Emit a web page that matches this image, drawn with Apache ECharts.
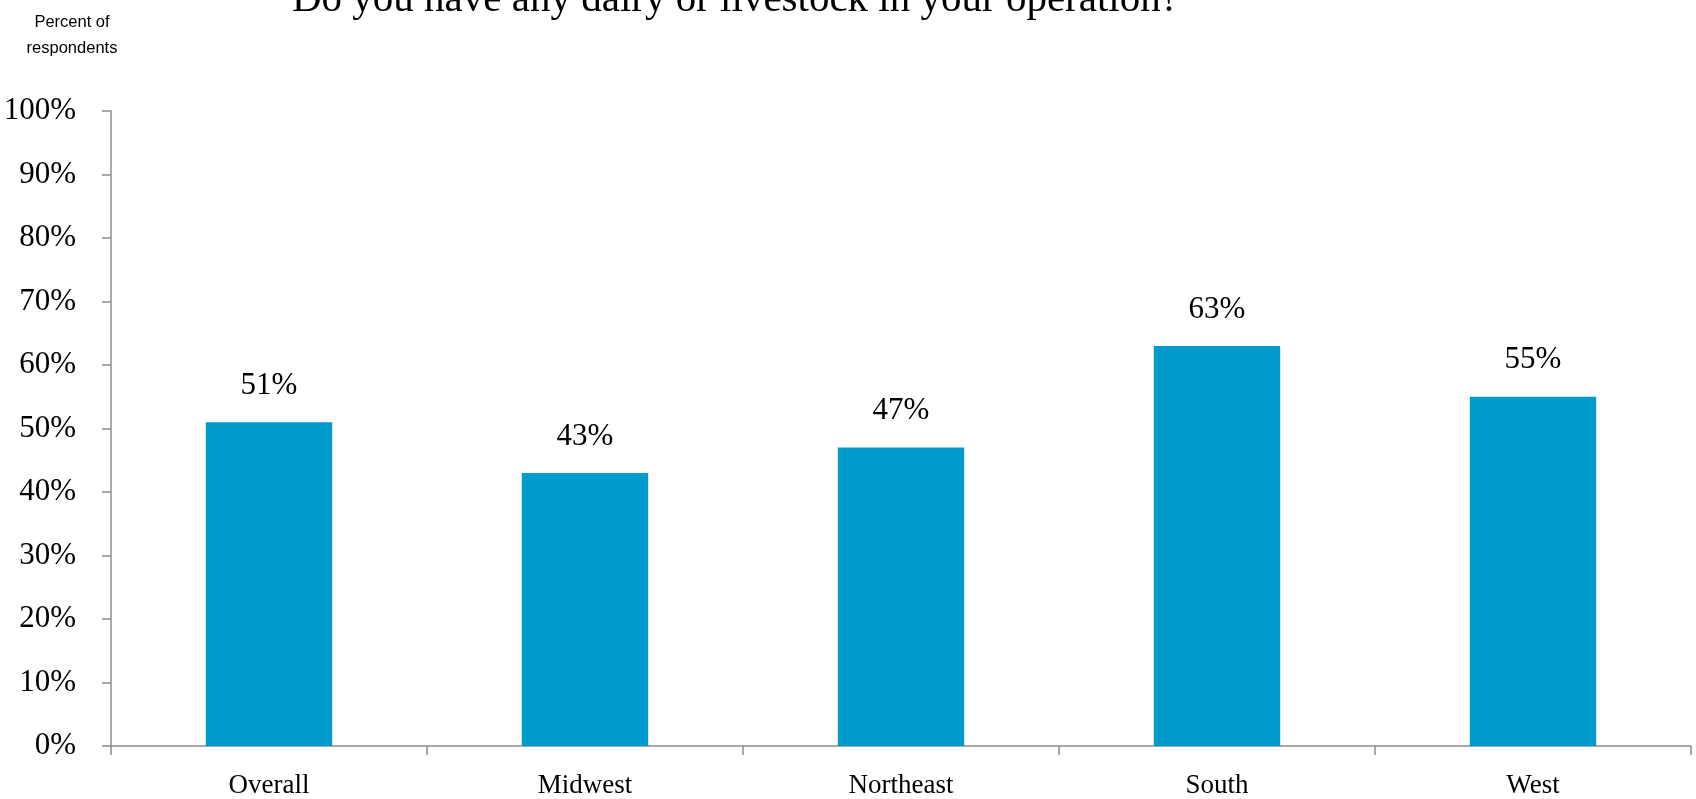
<!DOCTYPE html>
<html>
<head>
<meta charset="utf-8">
<style>
  html, body { margin: 0; padding: 0; background: #ffffff; }
  #chart { width: 1696px; height: 799px; }
</style>
<script src="https://cdn.jsdelivr.net/npm/echarts@6/dist/echarts.min.js"></script>
</head>
<body>
<div id="chart"></div>
<script>
// Share of respondents with dairy or livestock, by region
const categories = ['Overall', 'Midwest', 'Northeast', 'South', 'West'];
const values = [51, 43, 47, 63, 55];
const yTicks = [0, 10, 20, 30, 40, 50, 60, 70, 80, 90, 100];

const serif = '"Liberation Serif", "DejaVu Serif", serif';
const axisGray = '#8c8c8c';

const chart = echarts.init(document.getElementById('chart'), null, { renderer: 'canvas' });

chart.setOption({
  backgroundColor: '#ffffff',
  animation: false,
  title: {
    text: 'Do you have any dairy or livestock in your operation?',
    left: 287,
    top: -25,
    textStyle: { fontFamily: serif, fontSize: 41, fontWeight: 'normal', color: '#000000' }
  },
  graphic: [{
    type: 'text',
    style: {
      text: 'Percent of\nrespondents',
      x: 72,
      y: 9,
      align: 'center',
      verticalAlign: 'top',
      font: '16.5px "Liberation Sans", Arial, sans-serif',
      lineHeight: 26,
      fill: '#000000'
    }
  }],
  grid: { left: 111, right: 5, top: 111, bottom: 51, containLabel: false },
  xAxis: {
    type: 'category',
    data: categories,
    boundaryGap: true,
    axisLine: { show: true, lineStyle: { color: axisGray, width: 1.5 } },
    axisTick: { show: true, alignWithLabel: false, length: 9, lineStyle: { color: axisGray, width: 1.5 } },
    axisLabel: { fontFamily: serif, fontSize: 27, color: '#000000', margin: 26 },
    splitLine: { show: false }
  },
  yAxis: {
    type: 'value',
    min: yTicks[0],
    max: yTicks[yTicks.length - 1],
    interval: yTicks[1] - yTicks[0],
    axisLine: { show: true, lineStyle: { color: axisGray, width: 1.5 } },
    axisTick: { show: true, length: 9, lineStyle: { color: axisGray, width: 1.5 } },
    axisLabel: { fontFamily: serif, fontSize: 31, color: '#000000', margin: 35, formatter: '{value}%' },
    splitLine: { show: false }
  },
  series: [{
    type: 'bar',
    data: values,
    barWidth: '40%',
    itemStyle: { color: '#009BCD' },
    label: {
      show: true,
      position: 'top',
      distance: 21,
      formatter: '{c}%',
      fontFamily: serif,
      fontSize: 31,
      color: '#000000'
    }
  }]
});
</script>
</body>
</html>
